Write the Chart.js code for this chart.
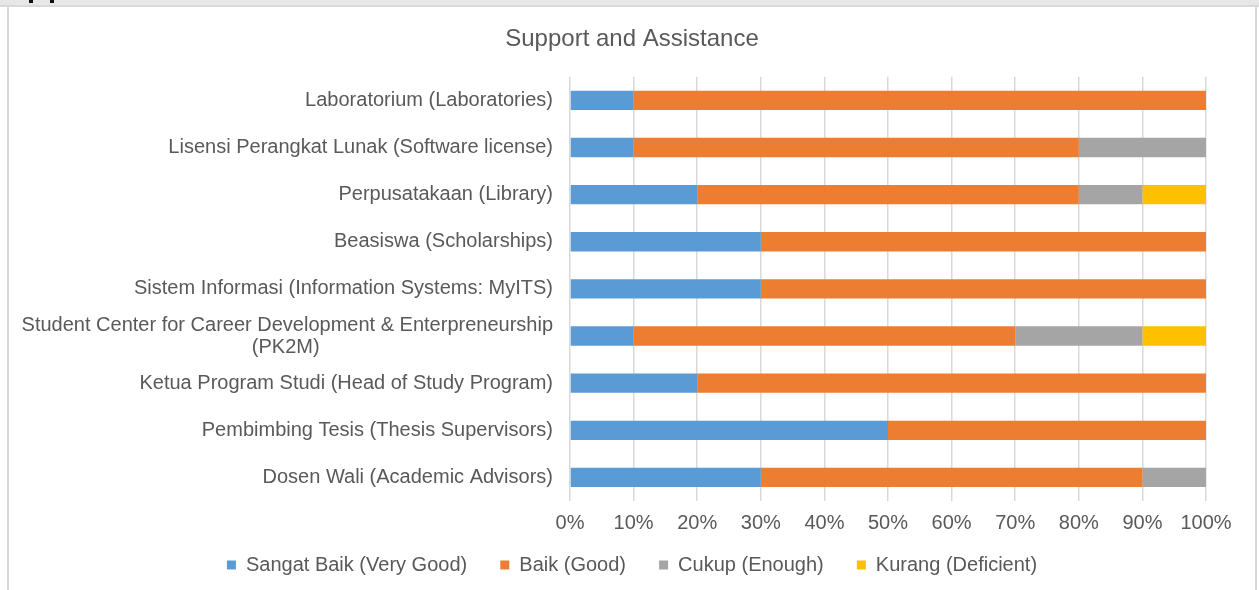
<!DOCTYPE html>
<html>
<head>
<meta charset="utf-8">
<script src="https://cdn.jsdelivr.net/npm/chart.js@4/dist/chart.umd.min.js"></script>
<style>
  html, body { margin: 0; padding: 0; background: #ffffff; width: 1259px; height: 590px; overflow: hidden; }
  #topband { position: absolute; left: 0; top: 0; width: 1259px; height: 5px; background: #e7e7e7; border-bottom: 2px solid #d9d9d9; }
  #lborder { position: absolute; left: 7px; top: 7px; width: 2px; height: 583px; background: #d9d9d9; }
  #rborder { position: absolute; left: 1255px; top: 7px; width: 2px; height: 583px; background: #d9d9d9; }
  .mark { position: absolute; top: 0; width: 4px; height: 3px; background: #111; }
  #wrap { position: absolute; left: 9px; top: 7px; width: 1246px; height: 583px; }
</style>
</head>
<body>
<div id="topband"></div>
<div class="mark" style="left:29px"></div>
<div class="mark" style="left:50px"></div>
<div id="lborder"></div>
<div id="rborder"></div>
<div id="wrap"><canvas id="c" width="1246" height="583"></canvas></div>
<script>
const categories = [
  "Laboratorium (Laboratories)",
  "Lisensi Perangkat Lunak (Software license)",
  "Perpusatakaan (Library)",
  "Beasiswa (Scholarships)",
  "Sistem Informasi (Information Systems: MyITS)",
  ["Student Center for Career Development & Enterpreneurship", "(PK2M)"],
  "Ketua Program Studi (Head of Study Program)",
  "Pembimbing Tesis (Thesis Supervisors)",
  "Dosen Wali (Academic Advisors)"
];
const seriesNames = ["Sangat Baik (Very Good)", "Baik (Good)", "Cukup (Enough)", "Kurang (Deficient)"];
const sangatBaik = [10, 10, 20, 30, 30, 10, 20, 50, 30];
const baik       = [90, 70, 60, 70, 70, 60, 80, 50, 60];
const cukup      = [0, 20, 10, 0, 0, 20, 0, 0, 10];
const kurang     = [0, 0, 10, 0, 0, 10, 0, 0, 0];
const xTicks = [0, 10, 20, 30, 40, 50, 60, 70, 80, 90, 100];

const FONT = "'Liberation Sans', Arial, sans-serif";
const TXT = "#595959";
const SIZE = 20;

// centre second line of the wrapped label under the first (canvas right-aligns lines)
const mctx = document.createElement('canvas').getContext('2d');
mctx.font = SIZE + "px " + FONT;
const labels = categories.map(l => {
  if (!Array.isArray(l)) return l;
  const w0 = mctx.measureText(l[0]).width;
  const sp = mctx.measureText(' ').width;
  return l.map((s, i) => {
    if (i === 0) return s;
    const n = Math.round((w0 - mctx.measureText(s).width) / 2 / sp);
    return s + ' '.repeat(Math.max(0, n));
  });
});

Chart.defaults.font.family = FONT;
Chart.defaults.color = TXT;

new Chart(document.getElementById('c'), {
  type: 'bar',
  data: {
    labels: labels,
    datasets: [
      { label: seriesNames[0], data: sangatBaik, backgroundColor: '#5B9BD5' },
      { label: seriesNames[1], data: baik, backgroundColor: '#ED7D31' },
      { label: seriesNames[2], data: cukup, backgroundColor: '#A5A5A5' },
      { label: seriesNames[3], data: kurang, backgroundColor: '#FFC000' }
    ]
  },
  options: {
    indexAxis: 'y',
    responsive: false,
    animation: false,
    events: [],
    datasets: { bar: { categoryPercentage: 1, barPercentage: 0.41, borderWidth: 0 } },
    layout: { padding: { left: 0, right: 0, top: 0, bottom: 5 } },
    plugins: {
      title: {
        display: true,
        text: 'Support and Assistance',
        font: { size: 24, weight: 'normal', family: FONT, lineHeight: 1.2 },
        color: TXT,
        padding: { top: 18, bottom: 23 }
      },
      legend: {
        position: 'bottom',
        labels: {
          boxWidth: 9, boxHeight: 9,
          font: { size: SIZE, family: FONT },
          color: TXT,
          padding: 22,
          generateLabels: chart => {
            const items = Chart.defaults.plugins.legend.labels.generateLabels(chart);
            items.forEach((it, i) => { if (i < items.length - 1) it.text = it.text + '  '; });
            return items;
          }
        }
      },
      tooltip: { enabled: false }
    },
    scales: {
      x: {
        stacked: true,
        min: 0, max: 100,
        afterBuildTicks: s => { s.ticks = xTicks.map(v => ({ value: v })); },
        afterFit: s => { s.height = 32; s.paddingRight = 49; },
        ticks: { callback: v => v + '%', font: { size: SIZE, family: FONT, lineHeight: 1.0 }, color: TXT, padding: 12, maxRotation: 0 },
        grid: { color: '#d9d9d9', lineWidth: 1.5, drawTicks: false },
        border: { display: false }
      },
      y: {
        stacked: true,
        afterFit: s => { s.width = 561; },
        ticks: { font: { size: SIZE, family: FONT, lineHeight: 1.1 }, color: TXT, padding: 17, autoSkip: false },
        grid: { display: false, drawTicks: false },
        border: { display: false }
      }
    }
  }
});
</script>
</body>
</html>
